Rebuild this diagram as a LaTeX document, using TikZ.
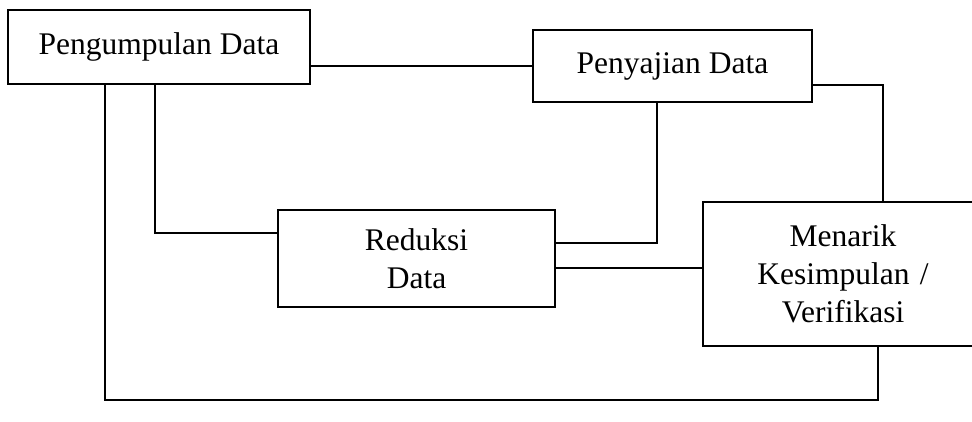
\documentclass[tikz,border=0pt]{standalone}
\usepackage{fontspec}
\setmainfont{Liberation Serif}
\begin{document}
\begin{tikzpicture}[x=1pt,y=-1pt,
  box/.style={draw, line width=2pt, inner sep=0pt, align=center,
    font=\fontsize{31.5}{38}\selectfont},
  conn/.style={line width=2pt}]
\useasboundingbox (0,0) rectangle (972,421);
\node[box, minimum width=302pt, minimum height=74pt] (pd) at (159,47) {Pengumpulan Data};
\node[box, minimum width=279pt, minimum height=72pt] (ps) at (672.5,66) {Penyajian Data};
\node[box, minimum width=277pt, minimum height=97pt] (rd) at (416.5,258.5) {Reduksi\\Data};
\node[box, minimum width=272pt, minimum height=144pt, text width=272pt] (mk) at (839,274) {\hspace*{8pt}Menarik\\\hspace*{8pt}Kesimpulan /\\\hspace*{8pt}Verifikasi};
\coordinate (a1) at (155,233);
\coordinate (a2) at (105,400);
\coordinate (a3) at (878,400);
\coordinate (a4) at (657,243);
\coordinate (a5) at (0,268);
\coordinate (a6) at (883,85);
\draw[conn] (pd.east |- ps.west) -- (ps.west);
\draw[conn] (pd.south -| a1) |- (rd.west |- a1);
\draw[conn] (pd.south -| a2) -- (a2) -- (a3) -- (mk.south -| a3);
\draw[conn] (ps.south -| a4) |- (rd.east |- a4);
\draw[conn] (rd.east |- a5) -- (mk.west |- a5);
\draw[conn] (ps.east |- a6) -| (mk.north -| a6);
\end{tikzpicture}
\end{document}
